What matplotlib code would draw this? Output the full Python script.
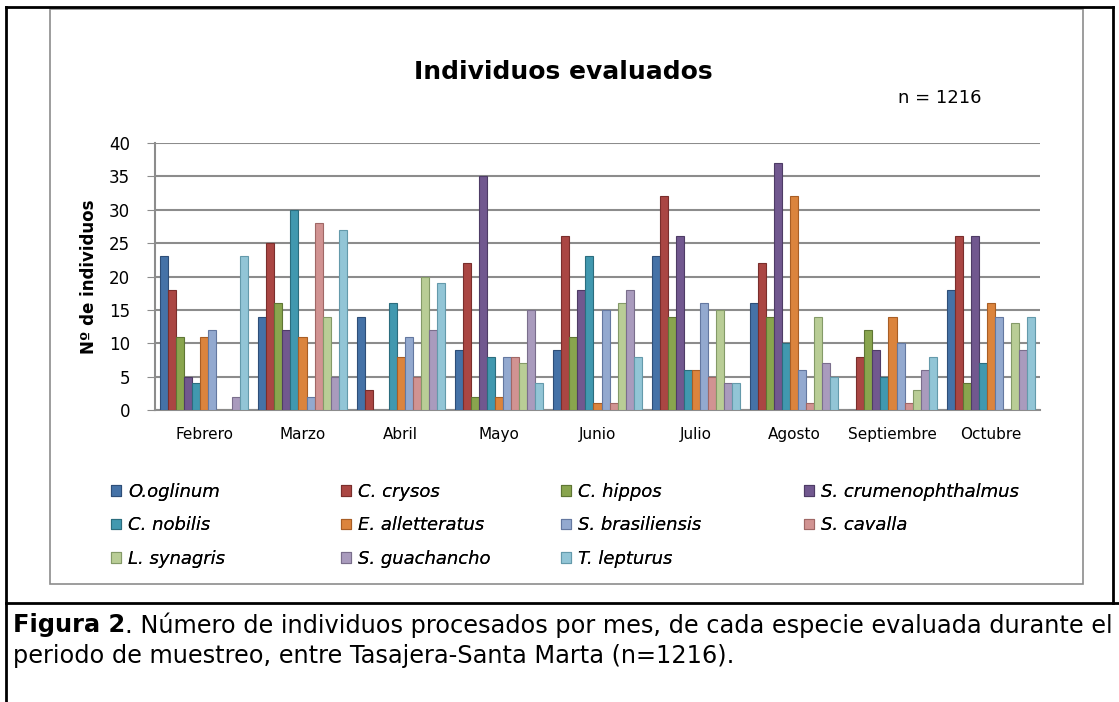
import matplotlib.pyplot as plt
from matplotlib.lines import Line2D
from matplotlib.patches import Rectangle
import numpy as np

months = ["Febrero", "Marzo", "Abril", "Mayo", "Junio", "Julio", "Agosto",
          "Septiembre", "Octubre"]
species = ["O.oglinum", "C. crysos", "C. hippos", "S. crumenophthalmus",
           "C. nobilis", "E. alletteratus", "S. brasiliensis", "S. cavalla",
           "L. synagris", "S. guachancho", "T. lepturus"]

# counts per species, one value per month (Feb..Oct)
o_oglinum = [23, 14, 14, 9, 9, 23, 16, 0, 18]
c_crysos = [18, 25, 3, 22, 26, 32, 22, 8, 26]
c_hippos = [11, 16, 0, 2, 11, 14, 14, 12, 4]
s_crumenophthalmus = [5, 12, 0, 35, 18, 26, 37, 9, 26]
c_nobilis = [4, 30, 16, 8, 23, 6, 10, 5, 7]
e_alletteratus = [11, 11, 8, 2, 1, 6, 32, 14, 16]
s_brasiliensis = [12, 2, 11, 8, 15, 16, 6, 10, 14]
s_cavalla = [0, 28, 5, 8, 1, 5, 1, 1, 0]
l_synagris = [0, 14, 20, 7, 16, 15, 14, 3, 13]
s_guachancho = [2, 5, 12, 15, 18, 4, 7, 6, 9]
t_lepturus = [23, 27, 19, 4, 8, 4, 5, 8, 14]

series = [o_oglinum, c_crysos, c_hippos, s_crumenophthalmus, c_nobilis,
          e_alletteratus, s_brasiliensis, s_cavalla, l_synagris,
          s_guachancho, t_lepturus]

colors = ["#4572A7", "#AA4643", "#89A54E", "#71588F", "#4198AF", "#DB843D",
          "#93A9CF", "#D19392", "#B9CD96", "#A99BBD", "#92C5D6"]
edges = ["#2E4E78", "#7A2E2C", "#5F7634", "#4E3C66", "#2B6D7E", "#A85E25",
         "#6478A0", "#A06866", "#849A68", "#7A6E8C", "#649AAB"]

W, H = 1119, 702
fig = plt.figure(figsize=(W / 100, H / 100), dpi=100)


def fx(px):
    return px / W


def fy(py):
    return 1 - py / H


# outer frame and chart box
fig.add_artist(Line2D([fx(6), fx(6)], [fy(7), 0], color="black", lw=2))
fig.add_artist(Line2D([fx(6), fx(1113)], [fy(7), fy(7)], color="black", lw=2))
fig.add_artist(Line2D([fx(1113), fx(1113)], [fy(7), fy(603)], color="black", lw=2))
fig.add_artist(Line2D([fx(6), 1], [fy(603), fy(603)], color="black", lw=2))
fig.add_artist(Rectangle((fx(50), fy(584)), fx(1083 - 50), (584 - 9) / H,
                         fill=False, edgecolor="#8C8C8C", lw=1.2))

ax = fig.add_axes([fx(155), fy(410), fx(1040 - 155), (410 - 143) / H])

n = len(series)
group_w = 0.9
bw = group_w / n
x = np.arange(len(months))
for i, (vals, c, ec) in enumerate(zip(series, colors, edges)):
    pos = x - group_w / 2 + bw * (i + 0.5)
    ax.bar(pos, vals, width=bw, color=c, edgecolor=ec, linewidth=0.8,
           label=species[i], zorder=3)

ax.set_xlim(-0.5, len(months) - 0.5)
ax.set_ylim(0, 40)
ax.set_yticks(range(0, 41, 5))
ax.yaxis.grid(True, color="#8C8C8C", lw=1.5, zorder=0)
ax.set_xticks(x)
ax.set_xticklabels(months, fontsize=11)
ax.tick_params(axis="y", labelsize=12, length=6, color="#8C8C8C", pad=12)
ax.tick_params(axis="x", length=0, pad=12)
for s in ["top", "right"]:
    ax.spines[s].set_visible(False)
ax.spines["left"].set_color("#8C8C8C")
ax.spines["bottom"].set_color("#8C8C8C")
ax.spines["left"].set_linewidth(1.5)
ax.spines["bottom"].set_linewidth(1.5)
ax.set_ylabel("Nº de individuos", fontsize=12, fontweight="bold", labelpad=8)

fig.text(fx(563), fy(72), "Individuos evaluados", fontsize=18,
         fontweight="bold", ha="center", va="center")
fig.text(fx(940), fy(98), "n = 1216", fontsize=13, ha="center", va="center")

# legend: 4 columns laid out row by row, like the original
handles, labels = ax.get_legend_handles_labels()
col_x = [111, 341, 561, 804]
for c in range(4):
    idx = list(range(c, len(handles), 4))
    leg = fig.legend([handles[i] for i in idx], [labels[i] for i in idx],
                     loc="upper left", bbox_to_anchor=(fx(col_x[c]), fy(483)),
                     frameon=False, prop={"style": "italic", "size": 13},
                     handlelength=0.55, handleheight=0.55, handletextpad=0.4,
                     labelspacing=0.85, borderaxespad=0, borderpad=0)
    fig.add_artist(leg)

renderer = fig.canvas.get_renderer()
t1 = fig.text(fx(13), fy(625), "Figura 2", fontsize=17.3, fontweight="bold",
              va="center", ha="left")
bb = t1.get_window_extent(renderer)
fig.text(bb.x1 / W, fy(625),
         ". Número de individuos procesados por mes, de cada especie evaluada durante el",
         fontsize=17.3, va="center", ha="left")
fig.text(fx(13), fy(656),
         "periodo de muestreo, entre Tasajera-Santa Marta (n=1216).",
         fontsize=17.3, va="center", ha="left")

fig.savefig("out.png", dpi=100)
